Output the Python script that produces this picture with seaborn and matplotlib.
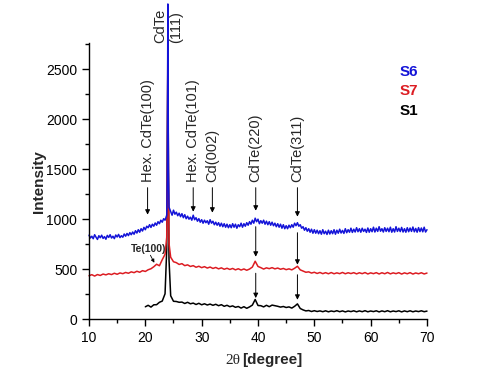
import numpy as np
import pandas as pd
import matplotlib
matplotlib.use("Agg")
import matplotlib.pyplot as plt
import seaborn as sns

# ---------------- data ----------------
x_pre_fine = list(np.arange(10.0, 23.51, 0.25))
x_post_fine = list(np.arange(24.5, 70.01, 0.25))
x_pre_S = list(np.arange(10.0, 23.51, 0.5))
x_pre_black = list(np.arange(20.0, 23.51, 0.5))
x_peak = [23.8, 23.9, 24.0, 24.1, 24.2]
x_post = list(np.arange(24.5, 70.01, 0.5))

s6_pre = [840, 812, 830, 805, 845, 820, 798, 835, 815, 840, 808, 826, 800, 838, 818, 845,
          812, 830, 806, 842, 822, 848, 816, 835, 820,
          852, 830, 858, 836, 866, 845, 872, 850, 885, 862, 895, 870, 905, 882, 918,
          895, 930, 915, 945, 918, 950, 930, 962, 940, 975, 955, 990, 970, 1005, 990]
s6_peak = [1040, 1400, 3150, 1500, 1120]
s6_post = [1075, 1040,
           1090, 1050, 1070, 1035, 1060, 1025, 1055, 1015, 1045, 1005, 1030, 1000,
           1020, 990, 1040, 995, 1015, 980, 1005, 970, 995, 960, 990, 965,
           985, 950, 995, 960, 980, 945, 970, 940, 965, 930, 960, 925,
           955, 920, 950, 915, 945, 915, 955, 920, 950, 910, 945, 925,
           960, 920, 955, 930, 965, 940, 975, 950, 990, 960, 1010, 975,
           1000, 955, 985, 960, 990, 950, 980, 945, 975, 940, 970, 935,
           960, 925, 955, 920, 950, 910, 945, 905, 935, 905, 940, 915,
           945, 920, 960, 935, 965, 930, 945, 910, 925, 890, 915, 880,
           905, 870, 900, 860, 895, 860, 890, 855, 885, 850, 895, 855,
           880, 848, 890, 852, 885, 855, 895, 850, 890, 860, 900, 862,
           888, 858, 905, 865, 895, 870, 910, 868, 900, 872, 915, 875,
           905, 870, 910, 878, 900, 868, 912, 870, 905, 875, 920, 872,
           910, 878, 925, 880, 905, 872, 915, 878, 910, 875, 920, 870,
           905, 872, 925, 878, 910, 876, 918, 872, 905, 870, 915, 875,
           912, 878, 922, 874, 908, 870, 916, 876, 912, 874, 920, 872,
           895]

s7_pre = [435, 446, 432, 447, 438, 452, 444, 455, 447, 460, 450, 463, 456, 468,
          460, 474, 466, 480, 470, 486, 478, 495, 505, 525, 550, 535, 595, 650]
s7_peak = [820, 1600, 2800, 1400, 760]
s7_post = [620, 575, 566, 548, 556, 536, 544, 528, 536, 520, 530, 516,
           526, 512, 522, 508, 518, 504, 514, 500, 510, 498, 508, 494, 505, 492, 503, 490, 502, 522, 580, 528,
           516, 502, 514, 506, 516, 504, 512, 500, 508, 496, 504, 494, 510, 530, 494, 482, 470, 474, 462, 470,
           458, 468, 456, 466, 455, 467, 455, 464, 456, 468, 455, 465, 457, 466, 454, 465, 456, 467, 453, 464,
           456, 466, 453, 465, 455, 468, 454, 464, 456, 466, 452, 464, 455, 466, 452, 463, 455, 465, 453, 462]

s1_pre = [125, 140, 122, 145, 146, 170, 182, 255]
s1_peak = [700, 1700, 2600, 1500, 600]
s1_post = [235, 180, 178, 170, 172, 158, 170, 155, 162, 148, 160, 145,
           155, 143, 152, 140, 150, 136, 146, 130, 140, 126, 134, 120, 128, 112, 126, 110, 124, 142, 198, 138,
           136, 124, 140, 126, 142, 136, 130, 122, 128, 118, 124, 112, 130, 154, 108, 94, 84, 88, 78, 86,
           78, 84, 76, 85, 75, 83, 77, 86, 76, 84, 74, 83, 77, 85, 75, 84, 76, 86, 75, 83,
           77, 85, 74, 84, 76, 86, 75, 83, 77, 85, 74, 84, 76, 85, 75, 83, 77, 85, 76, 82]

series_colors = {"S6": "#1414d8", "S7": "#dc1c22", "S1": "#000000"}

# peak labels
peak_labels = ["Hex. CdTe(100)", "Hex. CdTe(101)", "Cd(002)", "CdTe(220)", "CdTe(311)"]
peak_x = [20.4, 28.5, 31.9, 39.6, 47.0]
# arrows: (x, start, tip)
arrow_segments = [
    (20.4, 1315, 1045),
    (28.5, 1315, 1075),
    (31.9, 1315, 1065),
    (39.6, 1315, 1085),
    (39.6, 925, 625),
    (39.6, 460, 212),
    (47.0, 1315, 1025),
    (47.0, 865, 545),
    (47.0, 445, 195),
]

# ---------------- build frames ----------------
frames = []
for name, xs, ys in [
    ("S1", x_pre_black + x_peak + x_post, s1_pre + s1_peak + s1_post),
    ("S7", x_pre_S + x_peak + x_post, s7_pre + s7_peak + s7_post),
    ("S6", x_pre_fine + x_peak + x_post_fine, s6_pre + s6_peak + s6_post),
]:
    frames.append(pd.DataFrame({"two_theta": xs, "intensity": ys, "sample": name}))

# ---------------- plot ----------------
sns.set_style("ticks")
plt.rcParams["font.family"] = ["Liberation Sans", "DejaVu Sans"]

fig = plt.figure(figsize=(4.95, 3.83), dpi=100)
ax = fig.add_axes([0.1798, 0.1663, 0.6828, 0.7214])

for df in frames:
    name = df["sample"].iloc[0]
    sns.lineplot(data=df, x="two_theta", y="intensity", color=series_colors[name],
                 lw=1.1, ax=ax, sort=False, estimator=None, clip_on=False)

ax.set_xlim(10, 70)
ax.set_ylim(0, 2760)
ax.set_xticks([10, 20, 30, 40, 50, 60, 70])
ax.set_xticks(np.arange(15, 70, 10), minor=True)
ax.set_yticks([0, 500, 1000, 1500, 2000, 2500])
ax.set_yticks([250, 750, 1250, 1750, 2250, 2750], minor=True)
ax.tick_params(axis="both", which="major", length=5, width=1, labelsize=10, color="black", labelcolor="black")
ax.tick_params(axis="both", which="minor", length=3, width=1, color="black")
for s in ["top", "right"]:
    ax.spines[s].set_visible(False)
for s in ["left", "bottom"]:
    ax.spines[s].set_linewidth(1.0)
    ax.spines[s].set_color("black")

ax.set_xlabel("")
ax.set_ylabel("Intensity", fontsize=11, fontweight="bold", labelpad=0)

# x label: serif 2θ + bold sans [degree]
fig.text(240 / 495, 1 - 360 / 383, "2\u03b8", family="Liberation Serif", fontsize=11,
         ha="right", va="center")
fig.text(242 / 495, 1 - 360 / 383, "[degree]", fontsize=11, fontweight="bold",
         ha="left", va="center")

# peak labels
for lab, px in zip(peak_labels, peak_x):
    ax.text(px, 1375, lab, rotation=90, ha="center", va="bottom", fontsize=10.5)

ax.text(24.0, 2765, "CdTe\n(111)", rotation=90, ha="center", va="bottom", fontsize=10.5,
        multialignment="left", clip_on=False, linespacing=1.15)

for (px, y0, y1) in arrow_segments:
    ax.annotate("", xy=(px, y1), xytext=(px, y0),
                arrowprops=dict(arrowstyle="-|>", color="black", lw=0.7,
                                mutation_scale=7, shrinkA=0, shrinkB=0))

ax.text(20.6, 705, "Te(100)", fontsize=7.5, fontweight="bold", ha="center", va="center")
ax.annotate("", xy=(21.6, 565), xytext=(20.9, 640),
            arrowprops=dict(arrowstyle="-|>", color="black", lw=0.6,
                            mutation_scale=5, shrinkA=0, shrinkB=0))

# legend as coloured labels
for name, yy in [("S6", 2473), ("S7", 2278), ("S1", 2078)]:
    ax.text(65.2, yy, name, color=series_colors[name], fontsize=11, fontweight="bold",
            ha="left", va="center")

fig.savefig("out.png", dpi=100)
